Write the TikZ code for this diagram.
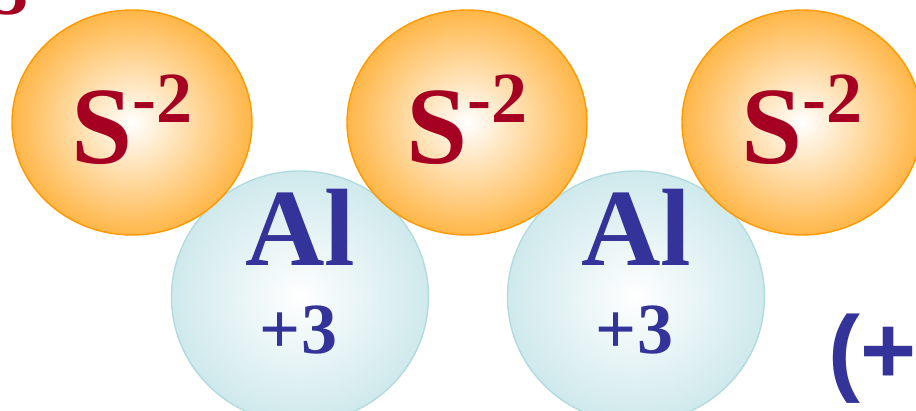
\documentclass[tikz,border=0pt]{standalone}
\usepackage{fontspec}
\setmainfont{Liberation Serif}
\newfontfamily\sansbold{Liberation Sans}
\usetikzlibrary{shapes.geometric}
\definecolor{sred}{HTML}{A50021}
\definecolor{alblue}{HTML}{333399}
\definecolor{orfill}{RGB}{255,182,72}
\definecolor{orline}{HTML}{FF9900}
\definecolor{blfill}{RGB}{207,233,236}
\definecolor{blline}{RGB}{178,219,224}
\begin{document}
\begin{tikzpicture}[x=1pt,y=-1pt,
  sball/.style={ellipse, minimum width=240pt, minimum height=225pt, inner sep=0pt,
    draw=orline, line width=1.4pt, inner color=white, outer color=orfill},
  alball/.style={ellipse, minimum width=257pt, minimum height=252pt, inner sep=0pt,
    draw=blline, line width=1.4pt, inner color=white, outer color=blfill},
  stext/.style={anchor=base, inner sep=0pt, text=sred, font=\bfseries},
  altext/.style={anchor=base, inner sep=0pt, text=alblue, font=\bfseries}]
\useasboundingbox (0,0) rectangle (916,410);
% Al balls (behind)
\node[alball] (al1) at (300,297) {};
\node[alball] (al2) at (636,297) {};
% S balls
\node[sball] (s1) at (132,122.5) {};
\node[sball] (s2) at (467,122.5) {};
\node[sball] (s3) at (802,122.5) {};
% S labels
\foreach \n/\x in {ls1/132,ls2/467,ls3/802}{
  \node[stext] (\n) at (\x,163) {\fontsize{110}{110}\selectfont S\raisebox{41pt}{\fontsize{72}{72}\selectfont -2}};
}
% Al labels
\foreach \n/\x in {1/300,2/636}{
  \node[altext] (lal\n) at (\x,265) {\fontsize{110}{110}\selectfont Al};
  \node[altext] (lch\n) at (\x-1.5,353) {\fontsize{72}{72}\selectfont +3};
}
% partial texts at edges
\node[anchor=base west, inner sep=0pt, text=alblue, font=\sansbold\bfseries] (paren) at (828,383) {\fontsize{96}{96}\selectfont (+};
\node[anchor=base west, inner sep=0pt, text=sred, font=\bfseries] (three) at (-8,14) {\fontsize{72}{72}\selectfont 3};
\end{tikzpicture}
\end{document}
